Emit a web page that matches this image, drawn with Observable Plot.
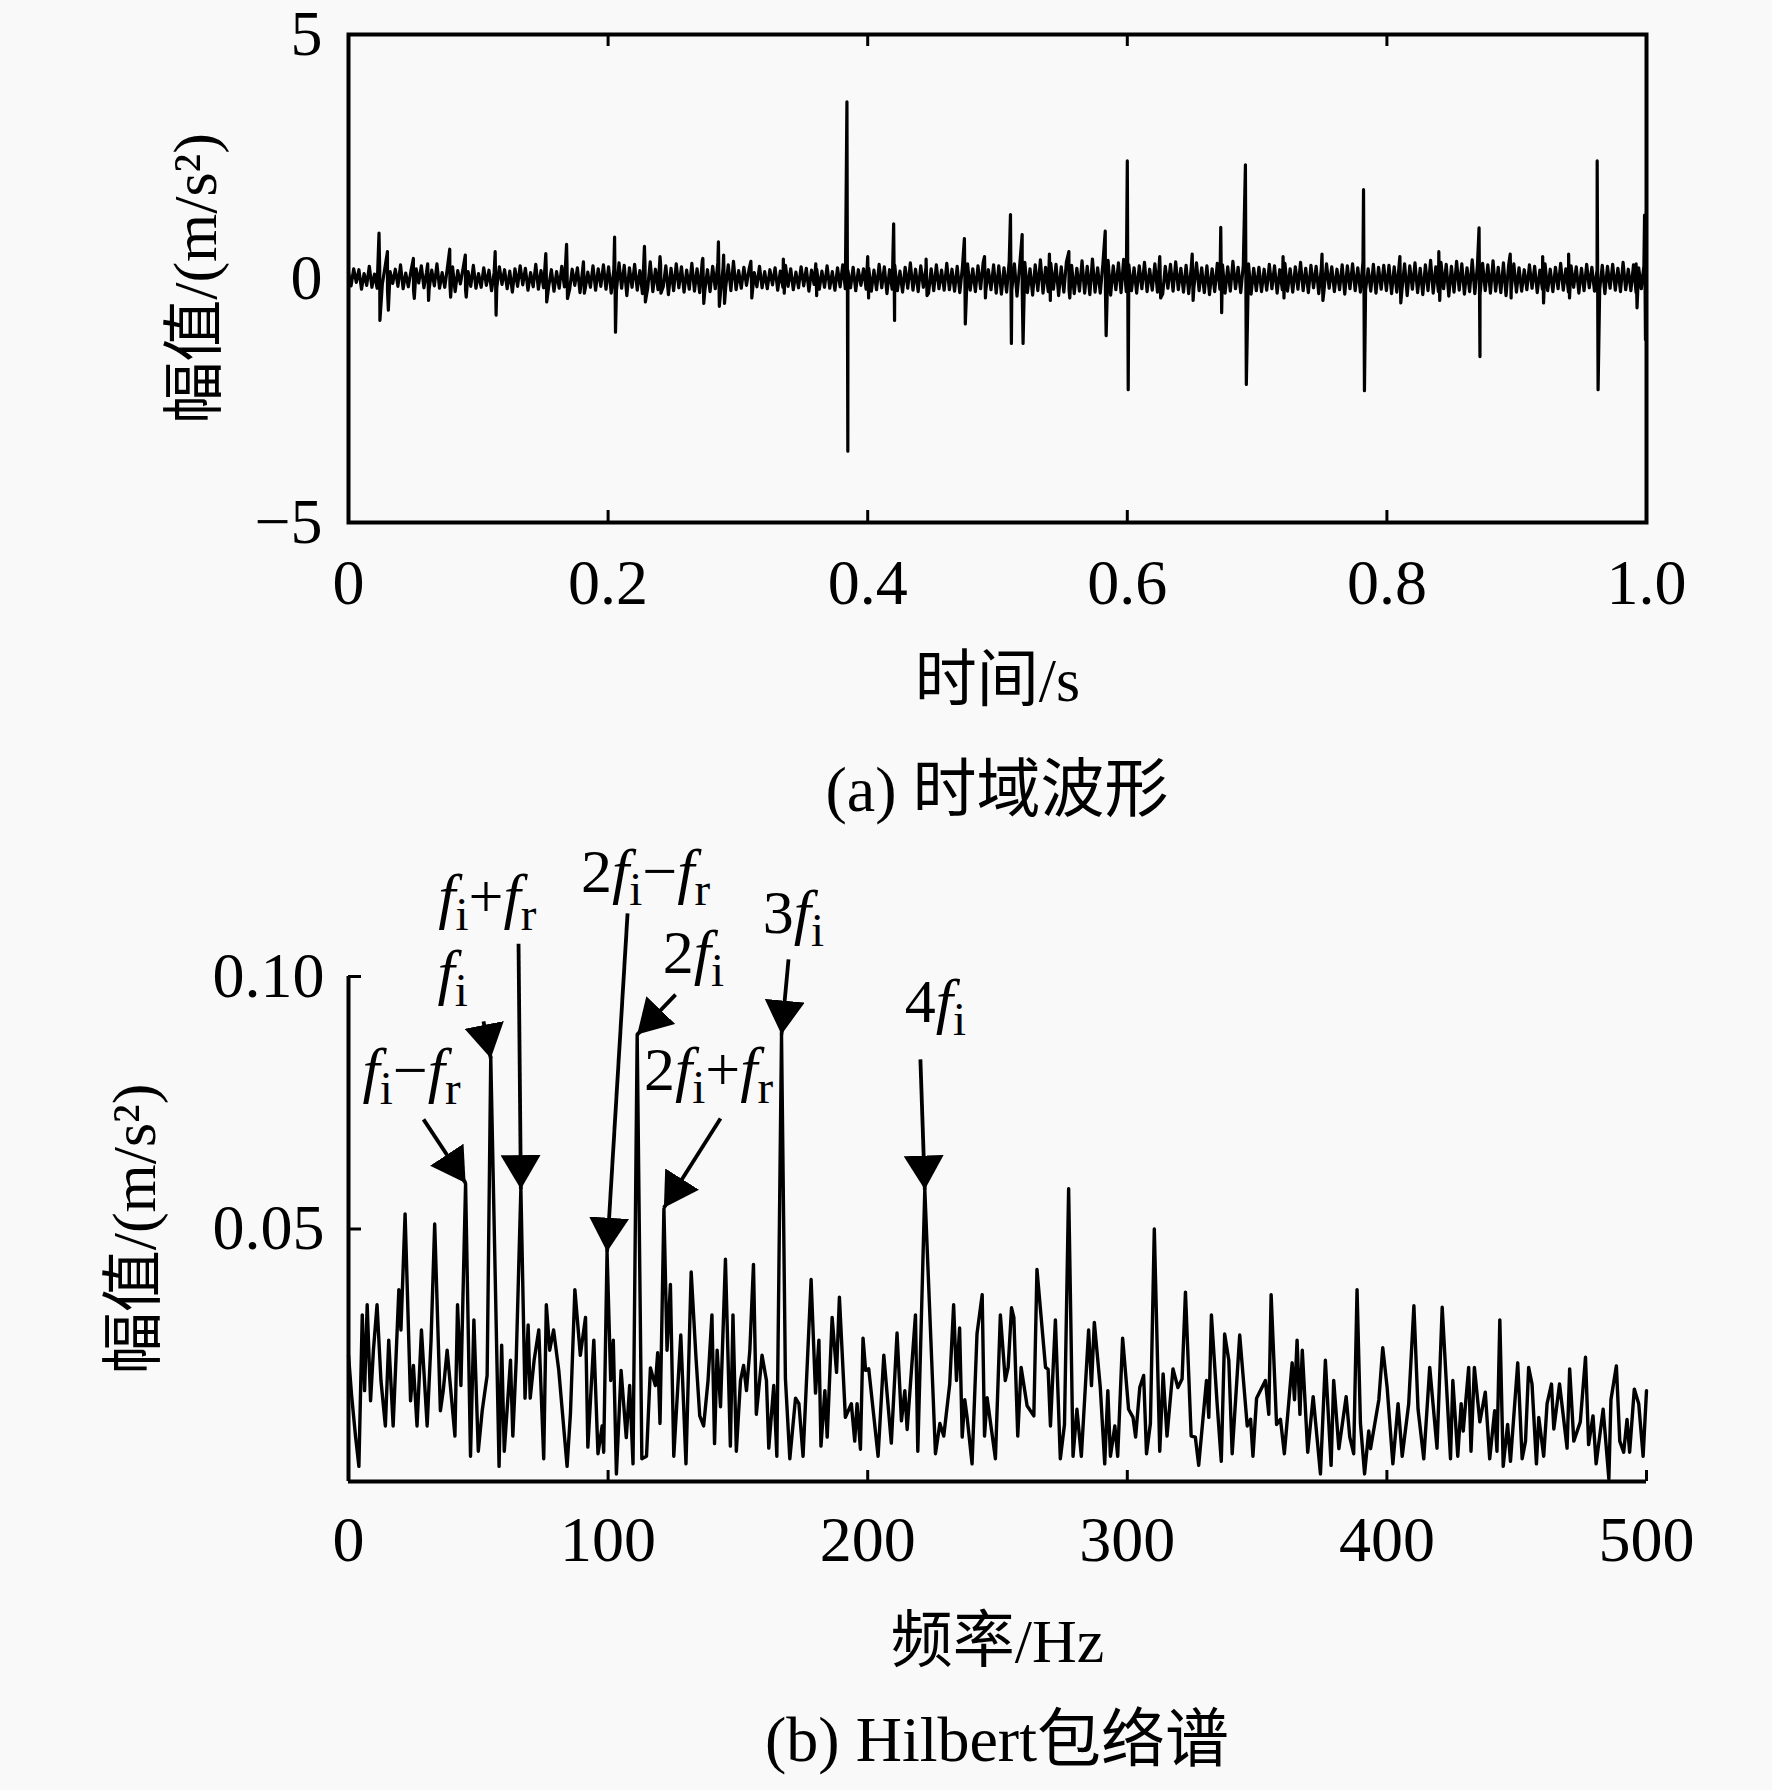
<!DOCTYPE html>
<html><head><meta charset="utf-8">
<script src="https://cdn.jsdelivr.net/npm/d3@7"></script>
<script src="https://cdn.jsdelivr.net/npm/@observablehq/plot@0.6"></script>
<style>
html,body{margin:0;padding:0;background:#f9f9f9;}
.cap{height:100px;line-height:100px;width:1772px;box-sizing:border-box;padding-left:222px;text-align:center;font-family:"Liberation Serif","Noto Sans CJK SC",serif;font-size:64px;color:#000;white-space:nowrap;}
svg{display:block;}
</style></head><body>
<div id="a"></div><div class="cap">(a) 时域波形</div>
<div id="b"></div><div class="cap">(b) Hilbert包络谱</div>
<script>
// ---------- panel (a) data ----------
const timeTicks = [0, 0.2, 0.4, 0.6, 0.8, 1.0];
const ampTicks = [-5, 0, 5];
// background vibration, in 0.01 m/s^2, evenly spaced over 0..1 s
const noise = [
12,-15,20,-8,18,-22,10,-14,25,-18,9,-20,16,-12,22,-25,14,-10,19,-16,28,-21,11,-17,15,-24,20,-9,26,-19,13,-22,17,-15,30,-20,12,-18,21,-13,24,-27,16,-11,19,-23,14,-16,27,-20,
10,-18,22,-14,17,-25,13,-19,24,-12,18,-21,15,-28,20,-16,26,-13,21,-24,12,-17,29,-22,16,-19,23,-15,18,-26,14,-20,25,-17,30,-23,19,-14,22,-29,17,-21,13,-18,26,-24,20,-16,28,-22,
24,-30,18,-26,32,-20,27,-35,22,-18,29,-24,16,-31,25,-21,34,-27,19,-23,28,-17,26,-33,21,-25,30,-19,24,-28,17,-22,31,-26,20,-29,36,-24,18,-27,25,-21,33,-30,22,-19,28,-25,35,-23,
16,-20,23,-14,19,-22,12,-17,25,-19,14,-21,18,-13,22,-24,15,-18,27,-16,20,-23,13,-19,24,-15,21,-26,17,-12,19,-22,15,-18,26,-20,14,-24,22,-17,28,-21,16,-19,23,-25,18,-14,20,-22,
21,-26,17,-23,29,-19,24,-31,18,-22,27,-25,15,-28,23,-20,32,-24,19,-27,26,-18,22,-30,20,-25,28,-21,17,-24,31,-23,19,-26,25,-29,22,-18,30,-24,20,-27,26,-21,33,-25,18,-23,28,-30,
26,-32,22,-28,35,-24,30,-36,25,-21,33,-29,20,-34,28,-25,38,-30,23,-27,31,-22,29,-35,24,-28,34,-23,27,-31,21,-26,36,-30,25,-33,40,-28,22,-30,29,-25,37,-34,26,-23,32,-29,39,-27,
28,-25,22,-30,26,-21,33,-27,19,-24,30,-28,23,-32,25,-20,29,-26,34,-23,21,-28,27,-31,24,-19,32,-25,22,-29,26,-33,20,-27,31,-22,28,-30,24,-26,35,-21,23,-29,27,-24,30,-32,21,-25,
23,-27,19,-24,29,-21,26,-30,18,-23,31,-26,20,-28,24,-22,33,-25,21,-29,27,-19,25,-31,22,-26,30,-20,24,-27,19,-23,28,-32,26,-21,30,-25,22,-28,34,-24,20,-26,29,-30,23,-22,27,-25,
27,-31,24,-28,34,-23,30,-35,26,-22,32,-29,21,-33,28,-25,37,-30,24,-27,33,-21,29,-36,25,-28,35,-24,30,-32,22,-27,38,-31,26,-34,31,-25,28,-30,36,-26,23,-29,32,-35,27,-24,30,-28,
22,-26,18,-23,28,-20,25,-29,17,-22,30,-25,19,-27,23,-21,31,-24,20,-28,26,-18,24,-30,21,-25,29,-19,23,-26,18,-22,27,-31,25,-20,29,-24,21,-27,33,-23,19,-25,28,-29,22,-21,26,-24
];
// impulses: time (s), positive and negative excursion (m/s^2)
const spikeT = [0.0235,0.030,0.050,0.061,0.078,0.090,0.113,0.152,0.168,0.181,0.205,0.228,0.240,0.273,0.285,0.289,0.31,0.335,0.36,0.384,0.40,0.42,0.445,0.4745,0.49,0.51,0.519,0.54,0.555,0.583,0.600,0.625,0.65,0.672,0.691,0.72,0.75,0.782,0.81,0.84,0.871,0.895,0.92,0.94,0.962,0.992,0.9985];
const spikeUp = [0.93,0.55,0.41,0.30,0.60,0.48,0.55,0.51,0.70,0.34,0.85,0.66,0.45,0.41,0.75,0.48,0.35,0.40,0.30,3.62,0.45,1.12,0.40,0.82,0.45,1.31,0.90,0.50,0.55,0.97,2.41,0.45,0.50,1.05,2.33,0.45,0.50,1.82,0.45,0.55,1.04,0.50,0.45,0.50,2.41,0.30,1.30];
const spikeDown = [-0.86,-0.65,-0.41,-0.45,-0.38,-0.38,-0.75,-0.48,-0.41,-0.30,-1.10,-0.48,-0.30,-0.51,-0.57,-0.51,-0.40,-0.30,-0.35,-3.54,-0.40,-0.86,-0.35,-0.93,-0.40,-1.33,-1.33,-0.45,-0.40,-1.17,-2.28,-0.40,-0.45,-0.70,-2.17,-0.40,-0.45,-2.30,-0.50,-0.45,-1.60,-0.40,-0.50,-0.40,-2.28,-0.60,-1.25];

// ---------- panel (b) data ----------
const freqTicks = [0, 100, 200, 300, 400, 500];
const specTicks = [0.05, 0.10];
// [frequency Hz, amplitude in 0.001 m/s^2]
const spectrum = [
[0,25],[1.2,17],[2.7,9],[4,3],[5.3,33],[6.2,18],[7.2,35],[8.5,16],[9.6,26],[11,35],[12.5,20],[14.2,11],[15.5,28],[17.2,11],[19.4,38],[20.2,30],[21.8,53],[23.9,16],[25,23],[26.4,11],[28.1,30],[30.3,11],[31.8,28],[33.2,51],[35.4,14],[36.5,18],[38,26],[41,9],[42,35],[43.3,19],[45.1,59],[47,5],[48.3,32],[50,6],[51.5,14],[53.4,21],[54.8,84],[58,3],[59,27],[60,6],[62.4,24],[63.3,9],[64.6,24],[66.4,58],[68,16.5],[69.2,31],[70,16.5],[71.5,24],[73.3,30],[75.2,4.5],[76.2,35],[77.5,26],[79,30],[81,22],[84.2,3],[85.5,13.5],[87.2,38],[89.3,25],[91.3,32.5],[92.2,6.8],[94.5,28],[96.1,5.5],[97.7,11],[98.3,5.8],[99.6,45.5],[101,20],[102,28],[103.2,1.5],[105,22],[107,8.7],[108.3,19],[109.6,3.5],[111.2,88.5],[113,4.5],[114.8,5],[116.3,22.5],[118.2,19],[119.1,25.5],[120,11.5],[121.5,54],[122.7,26],[124,39],[125.3,5],[128,29],[130,3.5],[132,41.5],[133.8,25],[135.3,13],[136.8,11],[138.5,20],[140,33],[141,7.5],[142,26],[143.3,14.8],[145.2,44],[147.1,7],[148.1,33],[149.4,6],[151,20],[152.2,23],[153.3,18],[154.6,26],[156,43],[157.1,13.3],[159.3,25],[161,20],[161.9,6.6],[163.8,19],[165,5],[166.8,88.5],[168.3,20.4],[170,4.5],[172.2,16.5],[173.5,15.4],[175.1,5],[178.2,40],[179.9,17.5],[181.2,28],[182,7],[183.5,18],[184.4,8.8],[186.3,32.5],[188,21.6],[189.1,36.5],[191.4,12.7],[193.7,15.4],[195,8],[195.9,15.4],[197.2,6.4],[198.2,28.4],[199.2,22],[200.4,22.3],[204,5],[206.2,25],[209.1,7.6],[211.3,29.4],[213,12],[214.3,18],[215.2,10.3],[218.4,33],[219.3,6],[222,57.8],[226.1,5.5],[227.8,11.5],[229.3,9],[231.6,19.3],[233.1,35],[234.2,20],[235.4,30.4],[236.4,8.8],[237.4,16.2],[238.3,12.7],[240.2,3.5],[242.1,29.2],[244.1,37],[245,9],[246,16.6],[249.2,4.5],[251.1,33],[253,20],[254.1,22.6],[255.4,34.4],[256.3,32.5],[257.8,9],[259.1,22.6],[261.4,15],[264,13],[265.2,42],[268.5,22.6],[269.5,22.2],[270.4,11],[272.3,32],[274.2,4.5],[275.8,11.3],[277.4,58],[279.1,5],[280.6,14.3],[282.3,5],[285.1,30],[286.2,19],[287.3,31.5],[289.6,18.6],[291.3,3.5],[292.5,18],[293.5,5],[295.2,11],[296.3,5],[298.2,28.4],[300.5,14.3],[302.2,12.7],[303.2,8.8],[304.8,18.6],[306.3,21],[307.4,5.5],[308.9,11.5],[310.4,50],[312.5,6],[313.8,21.3],[315.3,9],[317.6,22.3],[319.5,18.6],[321.1,20.3],[322.4,37.5],[324.6,9],[326.2,8.8],[327.5,3.2],[330.5,20],[331.4,12.7],[332.4,33],[334.6,15.4],[336.2,4],[337.5,29.2],[339.1,24],[340.4,5.5],[343.3,29],[346.2,11],[347.5,12.3],[348.4,5],[349.8,16.5],[353.2,20],[354.5,13.3],[355.4,37],[357.5,11.3],[359,12.3],[360.5,5.5],[363.5,23.5],[364.4,16.2],[365.4,28],[366.5,13.3],[367.4,26],[369.5,5.8],[371.6,16.8],[374.4,1.5],[376.3,24],[378.5,3.2],[379.5,20],[381.5,6.5],[384.3,16.8],[385.7,8.8],[387.2,5.5],[388.5,38],[389.8,11.6],[391.4,1.5],[393,10],[393.7,6.5],[396.9,16.2],[398.4,26.5],[400.1,18.6],[402.3,3.5],[404.3,15.4],[405.9,5],[408.4,15.4],[410.4,34.8],[412,14.3],[414.2,4.5],[416.5,22.6],[419.3,6.6],[421.3,34.5],[424.5,4.5],[425.4,20],[427.3,5],[428.6,15.4],[429.4,10],[431.5,22.6],[432.4,6],[433.7,22.6],[435.8,11.8],[437.9,17.7],[439.6,4.5],[441.5,14],[442.4,6],[443.5,32],[444.8,3],[446.5,11.3],[447.6,4],[450.4,23.5],[452.1,4.5],[453.4,8],[454.6,22.6],[455.9,19.3],[457.6,3.5],[458.5,12.7],[460.4,5],[461.7,15.4],[463.4,19.3],[464.3,10.4],[466.5,19.3],[469.4,6.6],[470.4,22.3],[472,8],[474.5,11.8],[476.5,24.6],[477.7,7.3],[479.4,13],[480.6,3.5],[483.3,14.3],[485.5,0.5],[486.3,16.2],[488.4,22.9],[489.7,8],[491.2,5.8],[492.5,12.3],[493.5,5.8],[495.3,18.3],[497,15.4],[498.7,5],[500,18]
];
// annotations: label text, label anchor (Hz, 0.001 m/s^2), arrow tail and tip
const annotLabel = ["f_i\u2212f_r","f_i","f_i+f_r","2f_i\u2212f_r","2f_i","2f_i+f_r","3f_i","4f_i"];
const annotLabelF = [24.3, 40.1, 53.5, 114.4, 132.9, 138.7, 171.4, 226.1];
const annotLabelA = [81.2, 100.6, 115.8, 120.6, 104.7, 81.4, 112.6, 94.9];
const arrowTailF = [28.9, 52.0, 65.5, 107.5, 126.0, 143.3, 169.5, 220.3];
const arrowTailA = [71.7, 91.1, 106.5, 112.5, 96.4, 71.9, 103.4, 83.6];
const arrowTipF = [45.1, 54.8, 66.4, 99.6, 111.2, 121.5, 166.8, 222.0];
const arrowTipA = [59.1, 83.8, 57.9, 45.5, 88.5, 54.2, 88.5, 57.8];

// ---------- build ----------
const W = 1772;
const fontFam = "'Liberation Serif', 'Noto Sans CJK SC', serif";
const baseStyle = {background: "transparent", fontFamily: fontFam, fontSize: "64px", color: "black", overflow: "visible"};

const wave = noise.map((v, i) => ({t: i / (noise.length - 1), v: v / 100}));
spikeT.forEach((t, j) => {
  wave.push({t: t, v: spikeUp[j]});
  wave.push({t: t + 0.0007, v: spikeDown[j]});
});
wave.sort((a, b) => a.t - b.t);

const hA = 740, mTA = 34, mBA = 218;
const plotHA = hA - mTA - mBA;
const plotA = Plot.plot({
  width: W, height: hA, marginTop: mTA, marginBottom: mBA, marginLeft: 348, marginRight: 126,
  style: baseStyle,
  x: {domain: [0, 1], label: null},
  y: {domain: [-5, 5], label: null},
  marks: [
    Plot.line(wave, {x: "t", y: "v", stroke: "black", strokeWidth: 3.2}),
    Plot.tickX(timeTicks, {x: d => d, stroke: "black", strokeWidth: 3, insetTop: plotHA - 12}),
    Plot.tickX(timeTicks, {x: d => d, stroke: "black", strokeWidth: 3, insetBottom: plotHA - 12}),
    Plot.frame({stroke: "black", strokeWidth: 4}),
    Plot.axisX({ticks: timeTicks, tickSize: 0, tickPadding: 36, label: null, tickFormat: d => d === 0 ? "0" : d.toFixed(1)}),
    Plot.axisY({ticks: ampTicks, tickSize: 0, tickPadding: 26, label: null, tickFormat: d => d < 0 ? "\u2212" + (-d) : String(d)}),
    Plot.text(["时间/s"], {frameAnchor: "bottom", lineAnchor: "middle", dy: 159, text: d => d, fontSize: 62}),
    Plot.text(["幅值/(m/s²)"], {frameAnchor: "left", textAnchor: "middle", lineAnchor: "middle", dx: -152, rotate: -90, text: d => d, fontSize: 62})
  ]
});
document.getElementById("a").appendChild(plotA);

const hB = 850, mTB = 136, mBB = 209;
const plotHB = hB - mTB - mBB;
const plotWB = W - 348 - 126;
const plotB = Plot.plot({
  width: W, height: hB, marginTop: mTB, marginBottom: mBB, marginLeft: 348, marginRight: 126,
  style: baseStyle,
  x: {domain: [0, 500], label: null},
  y: {domain: [0, 0.1], label: null},
  marks: [
    Plot.line(spectrum, {x: d => d[0], y: d => d[1] / 1000, stroke: "black", strokeWidth: 3.4}),
    Plot.link(annotLabel, {
      x1: (d, i) => arrowTailF[i], y1: (d, i) => arrowTailA[i] / 1000,
      x2: (d, i) => arrowTipF[i], y2: (d, i) => arrowTipA[i] / 1000,
      stroke: "black", strokeWidth: 3.8
    }),
    Plot.text(annotLabel, {x: (d, i) => annotLabelF[i], y: (d, i) => annotLabelA[i] / 1000, text: d => d, fontSize: 62}),
    Plot.ruleX([0], {stroke: "black", strokeWidth: 4}),
    Plot.ruleY([0], {stroke: "black", strokeWidth: 4}),
    Plot.tickX(freqTicks.slice(1), {x: d => d, stroke: "black", strokeWidth: 3, insetTop: plotHB - 11}),
    Plot.tickY(specTicks, {y: d => d, stroke: "black", strokeWidth: 3, insetRight: plotWB - 13}),
    Plot.axisX({ticks: freqTicks, tickSize: 0, tickPadding: 34, label: null, tickFormat: d => String(d)}),
    Plot.axisY({ticks: specTicks, tickSize: 0, tickPadding: 24, label: null, tickFormat: d => d.toFixed(2)}),
    Plot.text(["频率/Hz"], {frameAnchor: "bottom", lineAnchor: "middle", dy: 161, text: d => d, fontSize: 62}),
    Plot.text(["幅值/(m/s²)"], {frameAnchor: "left", textAnchor: "middle", lineAnchor: "middle", dx: -213, rotate: -90, text: d => d, fontSize: 62})
  ]
});
document.getElementById("b").appendChild(plotB);

// filled triangular arrow heads
const ns = "http://www.w3.org/2000/svg";
const defs = document.createElementNS(ns, "defs");
const marker = document.createElementNS(ns, "marker");
marker.setAttribute("id", "triHead");
marker.setAttribute("viewBox", "-34 -20 34 40");
marker.setAttribute("refX", "0");
marker.setAttribute("refY", "0");
marker.setAttribute("markerWidth", "34");
marker.setAttribute("markerHeight", "40");
marker.setAttribute("markerUnits", "userSpaceOnUse");
marker.setAttribute("orient", "auto");
const mp = document.createElementNS(ns, "path");
mp.setAttribute("d", "M-34,-20L0,0L-34,20Z");
mp.setAttribute("fill", "black");
marker.appendChild(mp);
defs.appendChild(marker);
plotB.insertBefore(defs, plotB.firstChild);
plotB.querySelectorAll('g[aria-label="link"] path').forEach(p => p.setAttribute("marker-end", "url(#triHead)"));

// italic f and subscripts in the annotation labels
function richify(el, s) {
  while (el.firstChild) el.removeChild(el.firstChild);
  let shifted = false;
  for (let k = 0; k < s.length; k++) {
    const ch = s[k];
    const ts = document.createElementNS(ns, "tspan");
    if (ch === "_") {
      ts.textContent = s[k + 1]; k++;
      ts.setAttribute("font-size", "47");
      ts.setAttribute("dy", "13");
      shifted = true;
    } else {
      ts.textContent = ch;
      if (shifted) { ts.setAttribute("dy", "-13"); shifted = false; }
      if (ch === "f") ts.setAttribute("font-style", "italic");
    }
    el.appendChild(ts);
  }
}
plotB.querySelectorAll('g[aria-label="text"] text').forEach(el => {
  const s = el.textContent;
  if (annotLabel.includes(s)) richify(el, s);
});
</script></body></html>
